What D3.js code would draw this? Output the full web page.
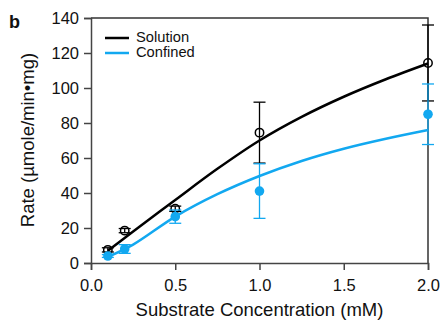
<!DOCTYPE html>
<html>
<head>
<meta charset="utf-8">
<script src="https://cdn.jsdelivr.net/npm/d3@7"></script>
<style>
  body { margin: 0; background: #fff; }
  svg { font-family: "Liberation Sans", Arial, Helvetica, sans-serif; }
</style>
</head>
<body>
<svg id="chart" width="443" height="322"></svg>
<script>
// measured points
const concs = [0.1, 0.2, 0.5, 1.0, 2.0];
const solutionRate = [7.5, 18.5, 31, 74.5, 114.3];
const solutionErr = [1.2, 1.2, 1.5, 17.4, 21.7];
const confinedRate = [4, 8, 26.5, 41.1, 85];
const confinedErr = [0.8, 2.5, 3.8, 15.6, 17.3];

// fitted curves
const fitX = [0.1, 0.25, 0.5, 0.75, 1.0, 1.25, 1.5, 1.75, 2.0];
const solutionFit = [7, 18, 36, 53.8, 70, 83.5, 95, 105, 114];
const confinedFit = [3.5, 10.5, 26.5, 39.3, 49.7, 58.3, 65.3, 71, 76];

const xTicks = [0.0, 0.5, 1.0, 1.5, 2.0];
const yTicks = [0, 20, 40, 60, 80, 100, 120, 140];

const BLUE = '#12a8f0';
const series = [
  {name: 'Solution', color: '#000', rate: solutionRate, err: solutionErr, fit: solutionFit, filled: false},
  {name: 'Confined', color: BLUE, rate: confinedRate, err: confinedErr, fit: confinedFit, filled: true}
];

const margin = {left: 91, right: 15, top: 18, bottom: 59};
const W = 443, H = 322;
const svg = d3.select('#chart');

let x = d3.scaleLinear().domain([0, 2]).range([margin.left, W - margin.right]);
let y = d3.scaleLinear().domain([0, 140]).range([H - margin.bottom, margin.top]);

// frame top/right
svg.append('path')
  .attr('d', `M${x(0)},${y(140)}H${x(2)}V${y(0)}`)
  .attr('fill', 'none').attr('stroke', '#333').attr('stroke-width', 1.5);

let xAxis = svg.append('g')
  .attr('transform', `translate(0,${y(0)})`)
  .call(d3.axisBottom(x).tickValues(xTicks).tickFormat(d3.format('.1f')).tickSizeOuter(0).tickSize(7).tickPadding(9));
let yAxis = svg.append('g')
  .attr('transform', `translate(${x(0)},0)`)
  .call(d3.axisLeft(y).tickValues(yTicks).tickSizeOuter(0).tickSize(7).tickPadding(5));

[xAxis, yAxis].forEach(a => {
  a.select('.domain').attr('stroke', '#444').attr('stroke-width', 1.5);
  a.selectAll('.tick line').attr('stroke', '#444').attr('stroke-width', 1.5);
  a.selectAll('.tick text').attr('font-size', 16.5).attr('fill', '#111')
    .attr('font-family', '"Liberation Sans", Arial, sans-serif');
});

// fitted lines
let line = d3.line().curve(d3.curveCatmullRom);
series.forEach(s => {
  svg.append('path')
    .datum(fitX.map((c, i) => [x(c), y(s.fit[i])]))
    .attr('d', line)
    .attr('fill', 'none')
    .attr('stroke', s.color)
    .attr('stroke-width', 2.5);
});

// error bars + points
series.forEach(s => {
  let g = svg.append('g');
  let pts = concs.map((c, i) => ({c: c, v: s.rate[i], e: s.err[i]}));
  g.selectAll('line.v').data(pts).enter().append('line')
    .attr('x1', d => x(d.c)).attr('x2', d => x(d.c))
    .attr('y1', d => y(d.v - d.e)).attr('y2', d => y(d.v + d.e))
    .attr('stroke', s.color).attr('stroke-width', 1.3);
  [-1, 1].forEach(sign => {
    g.selectAll('line.cap' + sign).data(pts).enter().append('line')
      .attr('x1', d => x(d.c) - 6).attr('x2', d => x(d.c) + 6)
      .attr('y1', d => y(d.v + sign * d.e)).attr('y2', d => y(d.v + sign * d.e))
      .attr('stroke', s.color).attr('stroke-width', 1.3);
  });
  g.selectAll('circle').data(pts).enter().append('circle')
    .attr('cx', d => x(d.c)).attr('cy', d => y(d.v))
    .attr('r', s.filled ? 4.8 : 4.2)
    .attr('fill', s.filled ? s.color : 'none')
    .attr('stroke', s.color)
    .attr('stroke-width', s.filled ? 0 : 1.5);
});

// legend
let legend = svg.append('g');
series.forEach((s, i) => {
  legend.append('line')
    .attr('x1', 105).attr('x2', 129)
    .attr('y1', 38 + i * 15).attr('y2', 38 + i * 15)
    .attr('stroke', s.color).attr('stroke-width', 2.5);
  legend.append('text')
    .attr('x', 136).attr('y', 42 + i * 15)
    .attr('font-size', 14.7).attr('fill', '#111')
    .text(s.name);
});

// axis titles
svg.append('text')
  .attr('x', (x(0) + x(2)) / 2).attr('y', 316)
  .attr('text-anchor', 'middle').attr('font-size', 18.5).attr('fill', '#111')
  .text('Substrate Concentration (mM)');
svg.append('text')
  .attr('transform', `translate(33.5,140) rotate(-90)`)
  .attr('text-anchor', 'middle').attr('font-size', 18.5).attr('fill', '#111')
  .text('Rate (µmole/min•mg)');

svg.append('text')
  .attr('x', 9).attr('y', 28)
  .attr('font-size', 18).attr('font-weight', 'bold').attr('fill', '#111')
  .text('b');
</script>
</body>
</html>
